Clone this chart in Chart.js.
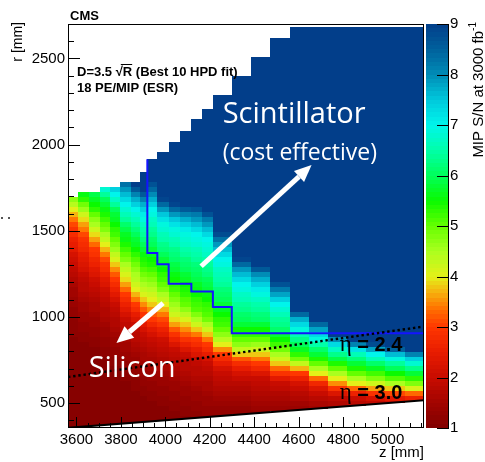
<!DOCTYPE html>
<html><head><meta charset="utf-8">
<script src="https://cdn.jsdelivr.net/npm/chart.js@4.4.1/dist/chart.umd.min.js"></script>
<style>html,body{margin:0;padding:0;background:#fff}canvas{display:block}</style>
</head><body>
<canvas id="c" width="485" height="462"></canvas>
<script>
// ---------------- DATA ----------------
// z bin edges of the layer columns [mm]
const zEdges = [3562,3607,3656,3704,3752,3798,3847,3885,3919,3964,4015,4066,4117,4166,4214,4300,4387,4473,4560,4645,4732,4818,4905,4990,5077,5164];
// outer radius of each column [mm]
const colTop = [1698,1727,1727,1756,1756,1785,1785,1843,1915,1959,2017,2079,2146,2204,2287,2397,2508,2621,2683,2683,2683,2683,2683,2683,2683];
// inner radius of each column (eta = 3.0 cut) [mm]
const colBottom = [358,363,367,372,377,382,386,390,393,398,403,408,413,418,425,434,442,451,459,468,477,485,494,502,511];
// radial binning [mm]
const rowOrigin = 364, rowHeight = 29;
// first radial row index of each column's listed values
const colStartRow = [-1,-1,0,0,0,0,0,0,1,1,1,1,1,1,2,2,2,3,3,3,3,4,4,4,5];
// MIP S/N per radial row (bottom -> up); rows above each list are saturated (>= 9)
const col01 = [1.1,1.1,1.1,1.1,1.1,1.1,1.1,1.1,1.1,1.1,1.1,1.1,1.1,1.1,1.1,1.1,1.1,1.1,1.1,1.2,1.2,1.2,1.2,1.3,1.3,1.4,1.4,1.5,1.5,1.6,1.7,1.8,1.9,2.0,2.1,2.2,2.4,2.5,2.6,2.8,2.9,3.1,3.4,3.7,4.0,4.4,4.7];
const col02 = [1.1,1.1,1.1,1.1,1.1,1.1,1.1,1.1,1.1,1.1,1.1,1.1,1.1,1.1,1.1,1.1,1.1,1.1,1.2,1.2,1.3,1.3,1.4,1.4,1.5,1.5,1.6,1.7,1.8,1.8,1.9,2.0,2.2,2.3,2.4,2.5,2.7,2.8,2.9,3.1,3.4,3.6,3.9,4.2,4.6,4.9,5.3,5.6];
const col03 = [1.1,1.1,1.1,1.1,1.1,1.1,1.1,1.1,1.1,1.1,1.1,1.1,1.1,1.1,1.1,1.1,1.2,1.2,1.3,1.3,1.4,1.4,1.5,1.6,1.6,1.7,1.8,1.9,2.0,2.1,2.3,2.4,2.6,2.7,2.9,3.0,3.3,3.6,3.9,4.2,4.5,4.7,5.0,5.3,5.5,5.7,5.9];
const col04 = [1.1,1.1,1.1,1.1,1.1,1.1,1.1,1.1,1.1,1.1,1.1,1.1,1.1,1.1,1.2,1.2,1.3,1.3,1.4,1.4,1.5,1.6,1.7,1.7,1.8,1.9,2.0,2.1,2.3,2.4,2.6,2.8,2.9,3.1,3.4,3.7,4.0,4.3,4.5,4.8,5.0,5.2,5.4,5.6,5.8,6.0,6.4,6.8];
const col05 = [1.1,1.1,1.1,1.1,1.1,1.1,1.1,1.1,1.1,1.1,1.1,1.1,1.2,1.2,1.3,1.3,1.4,1.4,1.5,1.6,1.7,1.7,1.8,1.9,2.0,2.2,2.4,2.6,2.8,3.0,3.2,3.5,3.8,4.1,4.3,4.6,4.8,5.0,5.2,5.3,5.5,5.7,5.8,6.0,6.4,6.7,7.0,7.4];
const col06 = [1.1,1.1,1.1,1.1,1.1,1.1,1.1,1.1,1.1,1.2,1.2,1.3,1.3,1.4,1.4,1.5,1.5,1.6,1.7,1.8,1.9,2.0,2.2,2.4,2.6,2.8,3.0,3.3,3.6,3.9,4.1,4.3,4.5,4.8,5.0,5.2,5.4,5.6,5.7,5.9,6.1,6.4,6.6,6.8,7.0,7.3,7.6,7.9,8.3];
const col07 = [1.1,1.1,1.1,1.1,1.1,1.1,1.1,1.2,1.2,1.2,1.3,1.3,1.4,1.4,1.5,1.6,1.7,1.8,1.8,1.9,2.0,2.3,2.5,2.8,3.0,3.4,3.7,4.0,4.2,4.4,4.5,4.7,4.9,5.1,5.3,5.5,5.7,5.8,6.0,6.2,6.4,6.6,6.8,7.0,7.4,7.7,8.1,8.6];
const col08 = [1.1,1.1,1.1,1.1,1.1,1.1,1.2,1.2,1.3,1.3,1.4,1.4,1.5,1.6,1.6,1.7,1.8,1.9,2.0,2.2,2.4,2.7,2.9,3.2,3.5,3.8,4.1,4.3,4.5,4.7,4.9,5.1,5.3,5.4,5.6,5.8,6.0,6.2,6.4,6.5,6.7,6.9,7.1,7.4,7.7,8.1,8.6];
const col09 = [1.1,1.1,1.1,1.1,1.2,1.2,1.3,1.3,1.4,1.4,1.5,1.6,1.6,1.7,1.8,1.9,2.0,2.2,2.4,2.7,3.0,3.2,3.5,3.8,4.0,4.2,4.4,4.6,4.8,5.0,5.2,5.4,5.5,5.7,5.8,6.0,6.1,6.3,6.4,6.6,6.7,6.9,7.0,7.4,7.7,8.0,8.4,8.7];
const col10 = [1.1,1.1,1.1,1.2,1.2,1.3,1.3,1.4,1.4,1.5,1.6,1.6,1.7,1.8,1.9,2.0,2.1,2.4,2.6,2.9,3.1,3.4,3.7,4.0,4.3,4.5,4.8,5.0,5.2,5.3,5.5,5.7,5.8,6.0,6.2,6.3,6.5,6.6,6.8,6.9,7.2,7.5,7.9,8.4,8.9];
const col11 = [1.1,1.1,1.2,1.2,1.3,1.3,1.4,1.4,1.5,1.6,1.7,1.8,1.8,1.9,2.0,2.3,2.6,2.9,3.2,3.6,3.9,4.2,4.4,4.6,4.8,5.0,5.2,5.3,5.5,5.6,5.8,5.9,6.1,6.2,6.3,6.5,6.6,6.8,6.9,7.2,7.5,7.9,8.4,8.9];
const col12 = [1.1,1.2,1.2,1.3,1.3,1.4,1.4,1.5,1.6,1.7,1.8,1.8,1.9,2.0,2.3,2.6,2.9,3.2,3.5,3.8,4.1,4.4,4.7,5.0,5.1,5.3,5.4,5.5,5.7,5.8,6.0,6.1,6.2,6.4,6.5,6.7,6.8,6.9,7.1,7.4,7.7,8.1,8.6];
const col13 = [1.2,1.2,1.3,1.3,1.4,1.4,1.5,1.6,1.7,1.8,1.8,1.9,2.0,2.3,2.5,2.8,3.0,3.4,3.8,4.2,4.5,4.8,5.1,5.2,5.3,5.5,5.6,5.7,5.9,6.0,6.1,6.2,6.4,6.5,6.6,6.8,6.9,7.0,7.3,7.6,7.9,8.2,8.7];
const col14 = [1.2,1.3,1.3,1.4,1.4,1.5,1.6,1.6,1.7,1.8,1.9,2.0,2.2,2.5,2.8,3.0,3.4,3.8,4.2,4.5,4.9,5.1,5.2,5.3,5.5,5.6,5.8,5.9,6.0,6.2,6.3,6.4,6.5,6.7,6.8,6.9,7.0,7.3,7.6,7.9,8.2,8.7];
const col15 = [1.3,1.3,1.4,1.5,1.6,1.7,1.8,1.9,2.0,2.2,2.5,2.8,3.0,3.5,4.0,4.4,4.7,5.0,5.2,5.3,5.5,5.7,5.8,6.0,6.1,6.2,6.4,6.5,6.6,6.7,6.9,7.0,7.3,7.6,7.9,8.3,8.8];
const col16 = [1.3,1.3,1.4,1.5,1.6,1.7,1.8,2.0,2.2,2.5,2.8,3.2,3.8,4.3,4.7,5.0,5.3,5.5,5.8,6.0,6.1,6.3,6.4,6.6,6.7,6.9,7.0,7.3,7.6,7.9,8.4,8.9];
const col17 = [1.3,1.4,1.5,1.6,1.7,1.8,1.9,2.0,2.3,2.7,3.0,3.4,3.8,4.2,4.6,5.0,5.3,5.5,5.8,6.1,6.2,6.4,6.5,6.7,6.9,7.1,7.4,7.7,8.0,8.6];
const col18 = [1.4,1.5,1.6,1.7,1.9,2.0,2.4,2.9,3.3,3.8,4.2,4.5,4.9,5.2,5.5,5.8,6.1,6.3,6.4,6.6,6.8,7.0,7.4,7.8,8.2,8.7];
const col19 = [1.4,1.5,1.7,1.8,2.0,2.2,2.6,3.0,3.7,4.3,4.9,5.3,5.7,6.0,6.3,6.6,6.9,7.3,7.7,8.4];
const col20 = [1.5,1.6,1.8,2.0,2.3,2.7,3.3,4.0,4.5,5.0,5.4,5.8,6.1,6.5,6.9,7.3,7.8,8.4];
const col21 = [1.5,1.7,1.9,2.3,2.9,3.5,4.0,4.5,5.0,5.4,5.9,6.3,6.7,7.3,8.0];
const col22 = [1.8,2.0,2.6,3.3,4.0,4.5,5.0,5.4,5.8,6.2,6.6,7.2,8.1];
const col23 = [1.9,2.2,2.9,3.6,4.2,4.8,5.2,5.7,6.1,6.6,7.0,7.8,8.8];
const col24 = [2.0,2.4,3.1,3.8,4.5,5.1,5.5,6.0,6.4,6.9,7.6,8.5];
const col25 = [2.6,3.3,4.1,4.8,5.3,5.8,6.3,6.8,7.4,8.1];
const snColumns = [col01,col02,col03,col04,col05,col06,col07,col08,col09,col10,col11,col12,col13,col14,col15,col16,col17,col18,col19,col20,col21,col22,col23,col24,col25];
const satValue = 9;

// silicon / scintillator boundary (blue outline) [mm]
const boundaryZ = [3919,3919,3964,3964,4015,4015,4117,4117,4214,4214,4299,4299,5164];
const boundaryR = [1915,1371,1371,1306,1306,1192,1192,1147,1147,1057,1057,905,905];
// constant-eta lines [mm]
const etaLineZ = [3562,5164];
const eta30R = [356,516];
const eta24R = [651,944];

// axes
const zRange = [3562,5164];
const rRange = [355,2700];
const snRange = [1,9];
const xTicks = [3600,3800,4000,4200,4400,4600,4800,5000];
const yTicks = [500,1000,1500,2000,2500];
const cbTicks = [1,2,3,4,5,6,7,8,9];
const xMinorStep = 50, yMinorStep = 100;

// arrows (data coordinates: [tail],[tip])
const arrowScint = [[4161,1294],[4658,1881]];
const arrowSilicon = [[3990,1080],[3780,848]];

// ---------------- STYLE ----------------
const paletteStops = [
  [1.0,[128,0,0]],[1.5,[162,4,0]],[2.0,[200,12,0]],[2.5,[232,28,0]],[3.0,[255,55,0]],
  [3.4,[255,120,0]],[3.7,[245,180,15]],[4.0,[228,240,25]],[4.5,[170,255,30]],[5.0,[100,255,0]],
  [5.5,[10,250,0]],[6.0,[0,255,90]],[6.5,[0,255,170]],[7.0,[0,245,235]],[7.5,[0,200,220]],
  [8.0,[0,140,182]],[8.5,[0,96,156]],[9.0,[2,62,138]]
];
function colorFor(v){
  v = Math.max(paletteStops[0][0], Math.min(paletteStops[paletteStops.length-1][0], v));
  for (let i=1;i<paletteStops.length;i++){
    const [v0,c0] = paletteStops[i-1], [v1,c1] = paletteStops[i];
    if (v <= v1){
      const t = (v - v0)/(v1 - v0);
      const c = c0.map((a,j)=>Math.round(a + (c1[j]-a)*t));
      return `rgb(${c[0]},${c[1]},${c[2]})`;
    }
  }
  return 'rgb(2,62,138)';
}
const SANS = '"Liberation Sans", Arial, Helvetica, sans-serif';
const LABEL_SANS = '"Open Sans", "Noto Sans", sans-serif';
const toXY = (zs, rs) => zs.map((z,i)=>({x:z, y:rs[i]}));

// ---------------- PLUGINS ----------------
const bgPlugin = { id:'bg', beforeDraw(chart){ const c=chart.ctx; c.save(); c.fillStyle='#fff'; c.fillRect(0,0,chart.width,chart.height); c.restore(); } };

const heatmapPlugin = {
  id:'heatmap',
  beforeDatasetsDraw(chart){
    const {ctx, chartArea:a, scales:{x,y}} = chart;
    ctx.save();
    ctx.beginPath(); ctx.rect(a.left,a.top,a.right-a.left,a.bottom-a.top); ctx.clip();
    snColumns.forEach((vals,c)=>{
      const x0 = Math.round(x.getPixelForValue(zEdges[c]));
      const x1 = Math.round(x.getPixelForValue(zEdges[c+1]));
      const cell = (rLo, rHi, v) => {
        const lo = Math.max(rLo, colBottom[c]), hi = Math.min(rHi, colTop[c]);
        if (hi <= lo) return;
        const yt = Math.round(y.getPixelForValue(hi)), yb = Math.round(y.getPixelForValue(lo));
        if (yb <= yt) return;
        ctx.fillStyle = colorFor(v);
        ctx.fillRect(x0, yt, x1-x0, yb-yt);
      };
      vals.forEach((v,i)=>{ const k = colStartRow[c] + i; cell(rowOrigin + k*rowHeight, rowOrigin + (k+1)*rowHeight, v); });
      const kEnd = colStartRow[c] + vals.length;
      cell(rowOrigin + kEnd*rowHeight, colTop[c], satValue);
    });
    ctx.restore();
  }
};

function drawArrow(ctx, x0,y0,x1,y1, w, hl, hw){
  const ang = Math.atan2(y1-y0, x1-x0);
  const bx = x1 - hl*Math.cos(ang), by = y1 - hl*Math.sin(ang);
  ctx.strokeStyle='#fff'; ctx.fillStyle='#fff'; ctx.lineWidth=w; ctx.lineCap='butt';
  ctx.beginPath(); ctx.moveTo(x0,y0); ctx.lineTo(bx,by); ctx.stroke();
  ctx.beginPath(); ctx.moveTo(x1,y1);
  ctx.lineTo(bx + hw/2*Math.sin(ang), by - hw/2*Math.cos(ang));
  ctx.lineTo(bx - hw/2*Math.sin(ang), by + hw/2*Math.cos(ang));
  ctx.closePath(); ctx.fill();
}

const overlayPlugin = {
  id:'overlay',
  afterDatasetsDraw(chart){
    const {ctx, chartArea:a, scales:{x,y,cb}} = chart;
    const X = v => x.getPixelForValue(v), Y = v => y.getPixelForValue(v);
    ctx.save();
    drawArrow(ctx, X(arrowScint[0][0]), Y(arrowScint[0][1]), X(arrowScint[1][0]), Y(arrowScint[1][1]), 5, 17, 15);
    drawArrow(ctx, X(arrowSilicon[0][0]), Y(arrowSilicon[0][1]), X(arrowSilicon[1][0]), Y(arrowSilicon[1][1]), 5, 17, 15);
    ctx.textAlign='left'; ctx.textBaseline='alphabetic';
    ctx.fillStyle='#fff';
    ctx.font = '29px ' + LABEL_SANS; ctx.fillText('Scintillator', X(4258), Y(2125));
    ctx.font = '23px ' + LABEL_SANS; ctx.fillText('(cost effective)', X(4258), Y(1910));
    ctx.font = '29px ' + LABEL_SANS; ctx.fillText('Silicon', X(3655), Y(652));
    ctx.fillStyle='#000';
    const etaLabel = (txt, z, r) => {
      ctx.font = '23px "Liberation Serif", serif';
      const px = X(z), py = Y(r);
      ctx.fillText('\u03B7', px, py);
      const w = ctx.measureText('\u03B7').width;
      ctx.font = 'bold 20px ' + SANS;
      ctx.fillText(' = ' + txt, px + w, py);
    };
    etaLabel('2.4', 4785, 803);
    etaLabel('3.0', 4785, 525);

    // frame and inward ticks
    ctx.strokeStyle='#000'; ctx.lineWidth=1;
    const L=Math.round(a.left), R=Math.round(a.right), T=Math.round(a.top), B=Math.round(a.bottom);
    ctx.strokeRect(L+0.5, T+0.5, R-L-1, B-T-1);
    ctx.beginPath();
    for (let z = xTicks[0]; z < zRange[1]; z += xMinorStep){
      const px = Math.round(X(z))+0.5, len = xTicks.includes(z) ? 11 : 5;
      ctx.moveTo(px, B); ctx.lineTo(px, B-len);
    }
    for (let r = 400; r < rRange[1]; r += yMinorStep){
      const py = Math.round(Y(r))+0.5, len = yTicks.includes(r) ? 12 : 6;
      ctx.moveTo(L, py); ctx.lineTo(L+len, py);
    }
    ctx.stroke();

    // colour bar
    const cbL = Math.round(cb.left)+2, cbR = Math.round(cb.left)+24;
    const nb = 96;
    for (let i=0;i<nb;i++){
      const v0 = snRange[0] + (snRange[1]-snRange[0])*i/nb, v1 = snRange[0] + (snRange[1]-snRange[0])*(i+1)/nb;
      const yt = Math.round(cb.getPixelForValue(v1)), yb = Math.round(cb.getPixelForValue(v0));
      ctx.fillStyle = colorFor((v0+v1)/2);
      ctx.fillRect(cbL, yt, cbR-cbL, yb-yt);
    }
    ctx.beginPath();
    ctx.moveTo(cbR+0.5, Math.round(cb.getPixelForValue(snRange[1]))); ctx.lineTo(cbR+0.5, Math.round(cb.getPixelForValue(snRange[0])));
    cbTicks.forEach(v=>{ const py=Math.round(cb.getPixelForValue(v))+0.5; ctx.moveTo(cbR+1, py); ctx.lineTo(cbR-11, py); });
    ctx.stroke();

    // corner labels
    ctx.fillStyle='#000'; ctx.textAlign='left';
    ctx.font='bold 13px ' + SANS;
    ctx.fillText('CMS', L+2, T-4);
    const s1 = 'D=3.5 \u221A', s2 = 'R', s3 = ' (Best 10 HPD fit)';
    const tx = L+9, ty = T+52;
    ctx.fillText(s1, tx, ty);
    const w1 = ctx.measureText(s1).width;
    ctx.fillText(s2, tx+w1, ty);
    const w2 = ctx.measureText(s2).width;
    ctx.fillText(s3, tx+w1+w2, ty);
    ctx.lineWidth=1; ctx.beginPath(); ctx.moveTo(tx+w1-2, ty-11.5); ctx.lineTo(tx+w1+w2, ty-11.5); ctx.stroke();
    ctx.fillText('18 PE/MIP (ESR)', tx, T+68);

    // axis titles
    ctx.font='14px ' + SANS;
    ctx.save(); ctx.translate(22, T-2); ctx.rotate(-Math.PI/2);
    ctx.textAlign='right'; ctx.fillText('r [mm]', 0, 0); ctx.restore();
    ctx.font='15px ' + SANS; ctx.textAlign='right';
    ctx.fillText('z [mm]', R, 457);
    ctx.save(); ctx.translate(483, T-2); ctx.rotate(-Math.PI/2);
    ctx.textAlign='right';
    ctx.font='10px ' + SANS; ctx.fillText('-1', 0, -7);
    const ws = ctx.measureText('-1').width;
    ctx.font='15px ' + SANS; ctx.fillText('MIP S/N at 3000 fb', -ws, 0);
    ctx.restore();
    ctx.fillStyle='#555'; ctx.fillRect(1,217,2,2); ctx.fillRect(8,217,2,2);
    ctx.restore();
  }
};

// ---------------- CHART ----------------
const tickFont = {family: SANS, size: 15};
const plain = v => String(v);
new Chart(document.getElementById('c'), {
  type:'scatter',
  data:{ datasets:[
    {label:'eta = 3.0', data: toXY(etaLineZ, eta30R), showLine:true, borderColor:'#000', borderWidth:2, pointRadius:0},
    {label:'eta = 2.4', data: toXY(etaLineZ, eta24R), showLine:true, borderColor:'#000', borderWidth:2.4, borderDash:[2.4,2.8], pointRadius:0},
    {label:'Si / scintillator boundary', data: toXY(boundaryZ, boundaryR), showLine:true, borderColor:'#1414ff', borderWidth:2, pointRadius:0, tension:0}
  ]},
  options:{
    responsive:false, animation:false, devicePixelRatio:1,
    layout:{padding:{top:24,left:0,right:0,bottom:0}},
    plugins:{legend:{display:false}, tooltip:{enabled:false}},
    scales:{
      x:{type:'linear', min:zRange[0], max:zRange[1],
        grid:{display:false, drawTicks:false}, border:{display:false},
        afterBuildTicks:s=>{ s.ticks = xTicks.map(v=>({value:v})); },
        afterFit:s=>{ s.height = 34; },
        ticks:{font:tickFont, color:'#000', padding:3, maxRotation:0, autoSkip:false, callback:plain}},
      y:{type:'linear', position:'left', min:rRange[0], max:rRange[1],
        grid:{display:false, drawTicks:false}, border:{display:false},
        afterBuildTicks:s=>{ s.ticks = yTicks.map(v=>({value:v})); },
        afterFit:s=>{ s.width = 68; },
        ticks:{font:tickFont, color:'#000', padding:3, autoSkip:false, callback:plain}},
      cb:{type:'linear', position:'right', min:snRange[0], max:snRange[1],
        grid:{display:false, drawTicks:true, tickLength:23}, border:{display:false},
        afterBuildTicks:s=>{ s.ticks = cbTicks.map(v=>({value:v})); },
        afterFit:s=>{ s.width = 61; },
        ticks:{font:tickFont, color:'#000', padding:3, autoSkip:false, callback:plain}}
    }
  },
  plugins:[bgPlugin, heatmapPlugin, overlayPlugin]
});
</script>
</body></html>
